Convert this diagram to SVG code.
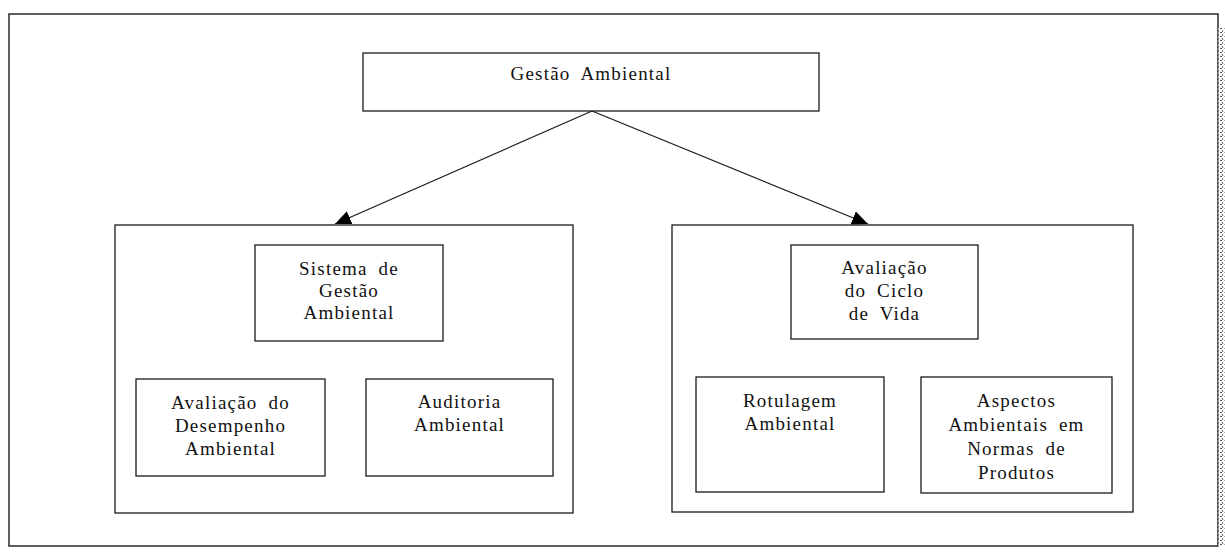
<svg xmlns="http://www.w3.org/2000/svg" width="1225" height="555" viewBox="0 0 1225 555">
  <style>
    .box { fill: #ffffff; stroke: #1a1a1a; stroke-width: 1.3; }
    .frame { fill: none; stroke: #1a1a1a; stroke-width: 1.4; }
    .edge { fill: none; stroke: #1a1a1a; stroke-width: 1.2; }
    .lbl { font-family: "Liberation Serif", "Times New Roman", serif; font-size: 19px; fill: #111111; text-anchor: middle; letter-spacing: 1.2px; word-spacing: 5px; }
  </style>
  <defs>
    <marker id="arrow" viewBox="0 0 16 14" refX="16" refY="7" markerWidth="16" markerHeight="14" markerUnits="userSpaceOnUse" orient="auto">
      <path d="M0,0 L16,7 L0,14 Z" fill="#000000"/>
    </marker>
    <pattern id="grain" width="4" height="4" patternUnits="userSpaceOnUse">
      <rect width="4" height="4" fill="#ffffff"/>
      <rect x="0" y="0" width="2" height="1" fill="#555555"/>
      <rect x="2" y="2" width="1" height="2" fill="#777777"/>
    </pattern>
  </defs>

  <rect width="1225" height="555" fill="#ffffff"/>

  <!-- outer frame -->
  <rect class="frame" x="9" y="14" width="1209" height="532"/>
  <rect x="1218.5" y="28" width="6" height="518" fill="url(#grain)"/>

  <!-- connectors -->
  <g id="connectors">
    <line class="edge" x1="592" y1="111" x2="335" y2="224" marker-end="url(#arrow)"/>
    <line class="edge" x1="592" y1="111" x2="868" y2="224" marker-end="url(#arrow)"/>
  </g>

  <g id="gestao-ambiental">
    <rect class="box" x="363" y="53" width="456" height="58"/>
    <text class="lbl" x="591" y="80">Gestão Ambiental</text>
  </g>

  <g id="grupo-sga">
    <rect class="box" x="115" y="225" width="458" height="288"/>
  </g>

  <g id="grupo-acv">
    <rect class="box" x="672" y="225" width="461" height="287"/>
  </g>

  <g id="sistema-gestao">
    <rect class="box" x="255" y="245" width="188" height="96"/>
    <text class="lbl" x="349" y="275">Sistema de</text>
    <text class="lbl" x="349" y="297">Gestão</text>
    <text class="lbl" x="349" y="319">Ambiental</text>
  </g>

  <g id="avaliacao-desempenho">
    <rect class="box" x="136" y="379" width="189" height="97"/>
    <text class="lbl" x="230.5" y="409">Avaliação do</text>
    <text class="lbl" x="230.5" y="432">Desempenho</text>
    <text class="lbl" x="230.5" y="455">Ambiental</text>
  </g>

  <g id="auditoria">
    <rect class="box" x="366" y="379" width="187" height="97"/>
    <text class="lbl" x="459.5" y="408">Auditoria</text>
    <text class="lbl" x="459.5" y="431">Ambiental</text>
  </g>

  <g id="ciclo-vida">
    <rect class="box" x="791" y="245" width="187" height="94"/>
    <text class="lbl" x="884.5" y="274">Avaliação</text>
    <text class="lbl" x="884.5" y="297">do Ciclo</text>
    <text class="lbl" x="884.5" y="320">de Vida</text>
  </g>

  <g id="rotulagem">
    <rect class="box" x="696" y="377" width="188" height="115"/>
    <text class="lbl" x="790" y="407">Rotulagem</text>
    <text class="lbl" x="790" y="430">Ambiental</text>
  </g>

  <g id="aspectos">
    <rect class="box" x="921" y="377" width="191" height="116"/>
    <text class="lbl" x="1016.5" y="407">Aspectos</text>
    <text class="lbl" x="1016.5" y="431">Ambientais em</text>
    <text class="lbl" x="1016.5" y="455">Normas de</text>
    <text class="lbl" x="1016.5" y="479">Produtos</text>
  </g>
</svg>
